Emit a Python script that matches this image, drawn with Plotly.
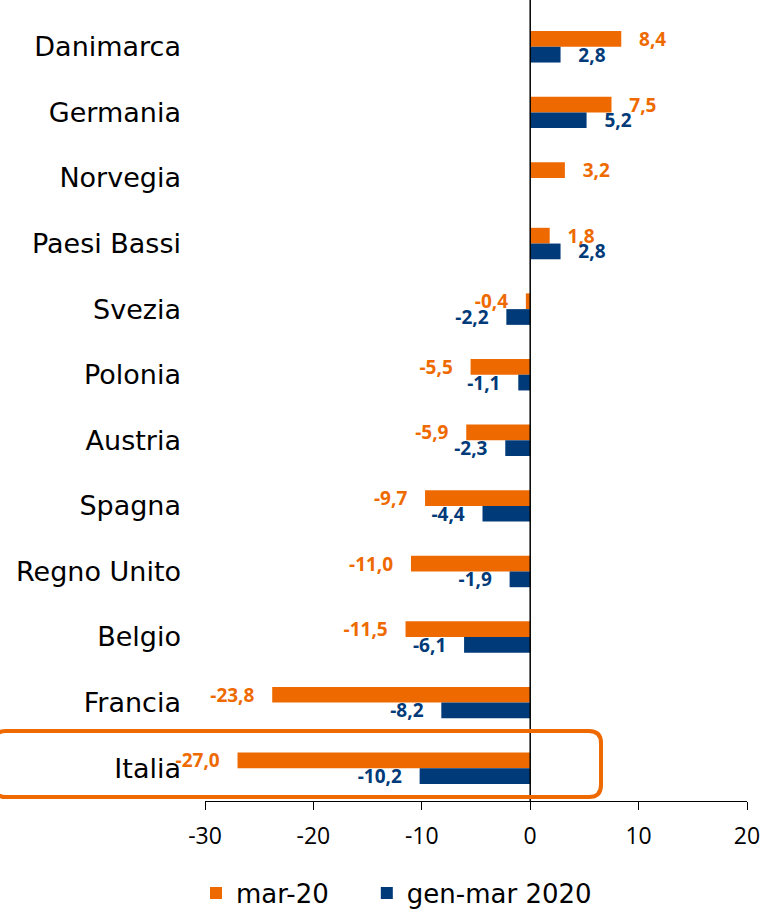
import plotly.graph_objects as go

categories = ["Danimarca", "Germania", "Norvegia", "Paesi Bassi", "Svezia", "Polonia",
              "Austria", "Spagna", "Regno Unito", "Belgio", "Francia", "Italia"]
mar20 = [8.4, 7.5, 3.2, 1.8, -0.4, -5.5, -5.9, -9.7, -11.0, -11.5, -23.8, -27.0]
genmar2020 = [2.8, 5.2, None, 2.8, -2.2, -1.1, -2.3, -4.4, -1.9, -6.1, -8.2, -10.2]
x_ticks = [-30, -20, -10, 0, 10, 20]

ORANGE = "#EE6A00"
BLUE = "#003A78"


def lab(v):
    if v is None:
        return ""
    s = f"{v:.1f}".replace(".", ",")
    return ("   " + s) if v >= 0 else (s + "   ")


LABEL_FONT = "Open Sans"
LABEL_SIZE = 19

fig = go.Figure()
fig.add_trace(go.Bar(
    y=categories, x=mar20, orientation="h", name="mar-20    ",
    marker=dict(color=ORANGE, line=dict(width=0)),
    text=[lab(v) for v in mar20], textposition="outside", constraintext="none",
    cliponaxis=False,
    textfont=dict(family=LABEL_FONT, size=LABEL_SIZE, color=ORANGE, weight="bold"),
))
fig.add_trace(go.Bar(
    y=categories, x=genmar2020, orientation="h", name="gen-mar 2020",
    marker=dict(color=BLUE, line=dict(width=0)),
    text=[lab(v) for v in genmar2020], textposition="outside", constraintext="none",
    cliponaxis=False,
    textfont=dict(family=LABEL_FONT, size=LABEL_SIZE, color=BLUE, weight="bold"),
))

W, H = 764, 911
ml, mr, mt, mb = 205, 17, 14, 110
pw, ph = W - ml - mr, H - mt - mb


def px(xp):
    return (xp - ml) / pw


def py(yp):
    return (H - mb - yp) / ph


# rounded highlight box around Italia (page pixel coords)
x0, x1, y0, y1 = px(-6), px(601), py(797), py(731)
rx, ry = 12 / pw, 12 / ph
path = (f"M {x0+rx},{y1} L {x1-rx},{y1} Q {x1},{y1} {x1},{y1-ry} "
        f"L {x1},{y0+ry} Q {x1},{y0} {x1-rx},{y0} L {x0+rx},{y0} "
        f"Q {x0},{y0} {x0},{y0+ry} L {x0},{y1-ry} Q {x0},{y1} {x0+rx},{y1} Z")

fig.update_layout(
    width=W, height=H,
    margin=dict(l=ml, r=mr, t=mt, b=mb, autoexpand=False),
    paper_bgcolor="white", plot_bgcolor="white",
    barmode="group", bargap=0.52, bargroupgap=0,
    font=dict(family="DejaVu Sans", color="black"),
    showlegend=True,
    legend=dict(orientation="h", x=px(196), xanchor="left", y=py(893), yanchor="middle",
                font=dict(size=26, family="DejaVu Sans"), traceorder="normal",
                itemwidth=30),
    xaxis=dict(range=[-30, 20], tickvals=x_ticks, ticktext=[str(t) for t in x_ticks],
               showgrid=False, zeroline=False, showline=True, linecolor="black",
               linewidth=1, ticks="outside", ticklen=8, tickcolor="black",
               ticklabelstandoff=6,
               tickfont=dict(family="Open Sans", size=23, color="black"),
               fixedrange=True),
    yaxis=dict(autorange="reversed", showgrid=False, zeroline=False, showline=False,
               ticks="", ticklabelstandoff=23,
               tickfont=dict(family="DejaVu Sans", size=27, color="black")),
    shapes=[
        dict(type="line", xref="x", yref="paper", x0=0, x1=0, y0=0, y1=py(0),
             line=dict(color="black", width=1.5)),
        dict(type="path", xref="paper", yref="paper", path=path,
             line=dict(color=ORANGE, width=4), fillcolor="rgba(0,0,0,0)"),
    ],
)

fig.write_html(
    "out.html",
    config={"displayModeBar": False},
    post_script="document.body.style.margin='0';document.body.style.overflow='hidden';",
)
